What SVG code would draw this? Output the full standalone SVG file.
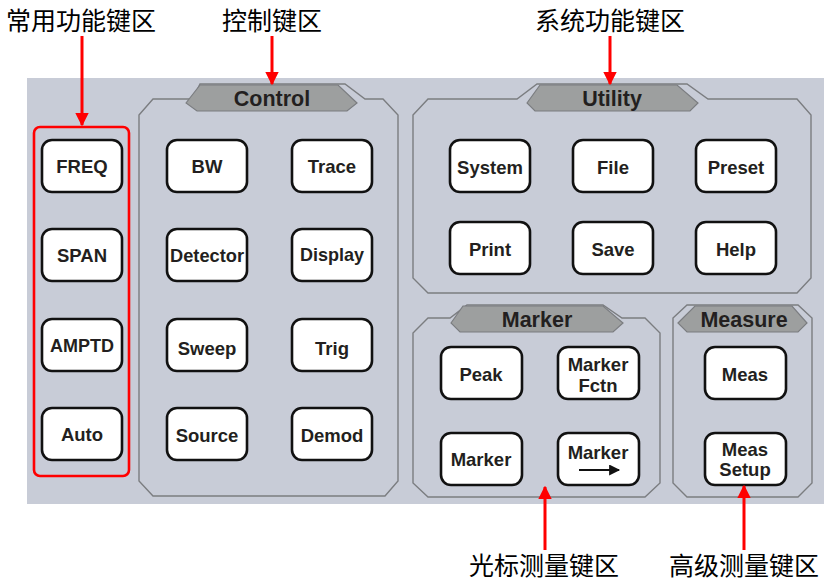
<svg xmlns="http://www.w3.org/2000/svg" width="824" height="581" viewBox="0 0 824 581">
<style>
.btn{fill:#fff;stroke:#111;stroke-width:2.6}
.bt{font-family:"Liberation Sans",Arial,sans-serif;font-weight:bold;font-size:18.5px;fill:#231f20;text-anchor:middle}
.grp{fill:none;stroke:#7b7d80;stroke-width:1.4}
.tab{fill:#9d9f9f;stroke:#7b7d80;stroke-width:1.2}
.tt{font-family:"Liberation Sans",Arial,sans-serif;font-weight:bold;font-size:21.5px;fill:#231f20;text-anchor:middle}
.lab{font-family:"Noto Sans CJK SC","Liberation Sans",sans-serif;font-size:25px;fill:#000;text-anchor:middle}
.red{stroke:#f00;stroke-width:3;fill:none}
</style>
<defs>
<marker id="ah" viewBox="0 0 10 10" refX="9" refY="5" markerWidth="4.6" markerHeight="4.6" orient="auto" markerUnits="strokeWidth">
<path d="M0,0 L10,5 L0,10 z" fill="#f00"/>
</marker>
<marker id="bh" viewBox="0 0 10 10" refX="9" refY="5" markerWidth="5.5" markerHeight="5" orient="auto" markerUnits="strokeWidth">
<path d="M0,0 L10,5 L0,10 z" fill="#111"/>
</marker>
</defs>
<rect x="0" y="0" width="824" height="581" fill="#fff"/>
<rect id="panel" x="27" y="78" width="797" height="426" fill="#c8ccd7"/>

<g id="common">
<rect x="34" y="127" width="95" height="349" rx="6" fill="none" stroke="#f00" stroke-width="2.6"/>
<g id="freq"><rect class="btn" x="42" y="140" width="80" height="52" rx="10"/><text class="bt" x="82" y="173">FREQ</text></g>
<g id="span"><rect class="btn" x="42" y="229" width="80" height="52" rx="10"/><text class="bt" x="82" y="262">SPAN</text></g>
<g id="amptd"><rect class="btn" x="42" y="319" width="80" height="52" rx="10"/><text class="bt" x="82" y="352" textLength="64" lengthAdjust="spacingAndGlyphs">AMPTD</text></g>
<g id="auto"><rect class="btn" x="42" y="408" width="80" height="52" rx="10"/><text class="bt" x="82" y="441">Auto</text></g>
</g>

<g id="control">
<path class="grp" d="M139,115 L153,99 L193,99 L200,84 L345,84 L365,99 L383,99 L398,115 L398,481 L385,496 L153,496 L139,481 Z"/>
<path class="tab" d="M186,103 L200,85 L338,85 L357,103 L347,111 L197,111 Z"/>
<text class="tt" x="272" y="106">Control</text>
<g id="bw"><rect class="btn" x="167" y="140" width="80" height="52" rx="10"/><text class="bt" x="207" y="173">BW</text></g>
<g id="trace"><rect class="btn" x="292" y="140" width="80" height="52" rx="10"/><text class="bt" x="332" y="173">Trace</text></g>
<g id="detector"><rect class="btn" x="167" y="229" width="80" height="52" rx="10"/><text class="bt" x="207" y="262" textLength="74" lengthAdjust="spacingAndGlyphs">Detector</text></g>
<g id="display"><rect class="btn" x="292" y="229" width="80" height="52" rx="10"/><text class="bt" x="332" y="261" textLength="64" lengthAdjust="spacingAndGlyphs">Display</text></g>
<g id="sweep"><rect class="btn" x="167" y="319" width="80" height="52" rx="10"/><text class="bt" x="207" y="355">Sweep</text></g>
<g id="trig"><rect class="btn" x="292" y="319" width="80" height="52" rx="10"/><text class="bt" x="332" y="355">Trig</text></g>
<g id="source"><rect class="btn" x="167" y="408" width="80" height="52" rx="10"/><text class="bt" x="207" y="442">Source</text></g>
<g id="demod"><rect class="btn" x="292" y="408" width="80" height="52" rx="10"/><text class="bt" x="332" y="442">Demod</text></g>
</g>

<g id="utility">
<path class="grp" d="M413,115 L428,99 L517,99 L537,84 L687,84 L708,99 L797,99 L811,115 L811,278 L797,293 L428,293 L413,278 Z"/>
<path class="tab" d="M527,103 L540,85 L677,85 L698,103 L690,111 L535,111 Z"/>
<text class="tt" x="612" y="106">Utility</text>
<g id="system"><rect class="btn" x="450" y="140" width="80" height="52" rx="10"/><text class="bt" x="490" y="174">System</text></g>
<g id="file"><rect class="btn" x="573" y="140" width="80" height="52" rx="10"/><text class="bt" x="613" y="174">File</text></g>
<g id="preset"><rect class="btn" x="696" y="140" width="80" height="52" rx="10"/><text class="bt" x="736" y="174">Preset</text></g>
<g id="print"><rect class="btn" x="450" y="222" width="80" height="52" rx="10"/><text class="bt" x="490" y="256">Print</text></g>
<g id="save"><rect class="btn" x="573" y="222" width="80" height="52" rx="10"/><text class="bt" x="613" y="256">Save</text></g>
<g id="help"><rect class="btn" x="696" y="222" width="80" height="52" rx="10"/><text class="bt" x="736" y="256">Help</text></g>
</g>

<g id="marker">
<path class="grp" d="M413,333 L428,318 L450,318 L467,305 L603,305 L622,318 L645,318 L660,333 L660,483 L645,497 L428,497 L413,483 Z"/>
<path class="tab" d="M451,323 L463,306 L603,306 L623,323 L613,332 L460,332 Z"/>
<text class="tt" x="537" y="327">Marker</text>
<g id="peak"><rect class="btn" x="441" y="347" width="81" height="52" rx="10"/><text class="bt" x="481" y="381">Peak</text></g>
<g id="markerfctn"><rect class="btn" x="558" y="347" width="81" height="52" rx="10"/><text class="bt" x="598" y="371">Marker</text><text class="bt" x="598" y="392">Fctn</text></g>
<g id="markerkey"><rect class="btn" x="441" y="433" width="81" height="52" rx="10"/><text class="bt" x="481" y="466">Marker</text></g>
<g id="markerto"><rect class="btn" x="558" y="433" width="81" height="52" rx="10"/><text class="bt" x="598" y="459">Marker</text><line x1="579" y1="470" x2="619" y2="470" stroke="#111" stroke-width="2.2" marker-end="url(#bh)"/></g>
</g>

<g id="measure">
<path class="grp" d="M673,318 L687,305 L798,305 L812,318 L812,483 L798,497 L687,497 L673,483 Z"/>
<path class="tab" d="M678,323 L695,306 L792,306 L807,323 L798,332 L687,332 Z"/>
<text class="tt" x="744" y="327">Measure</text>
<g id="meas"><rect class="btn" x="705" y="347" width="81" height="52" rx="10"/><text class="bt" x="745" y="381">Meas</text></g>
<g id="meassetup"><rect class="btn" x="705" y="433" width="81" height="52" rx="10"/><text class="bt" x="745" y="456">Meas</text><text class="bt" x="745" y="476">Setup</text></g>
</g>

<g id="labels">
<text class="lab" x="81" y="30">常用功能键区</text>
<text class="lab" x="272" y="30">控制键区</text>
<text class="lab" x="610" y="30">系统功能键区</text>
<text class="lab" x="544" y="575">光标测量键区</text>
<text class="lab" x="744" y="575">高级测量键区</text>
</g>

<g id="connectors">
<line class="red" x1="82" y1="36" x2="82" y2="125" marker-end="url(#ah)"/>
<line class="red" x1="272" y1="36" x2="272" y2="84" marker-end="url(#ah)"/>
<line class="red" x1="610" y1="36" x2="610" y2="84" marker-end="url(#ah)"/>
<line class="red" x1="545" y1="550" x2="545" y2="487" marker-end="url(#ah)"/>
<line class="red" x1="744" y1="550" x2="744" y2="486" marker-end="url(#ah)"/>
</g>
</svg>
